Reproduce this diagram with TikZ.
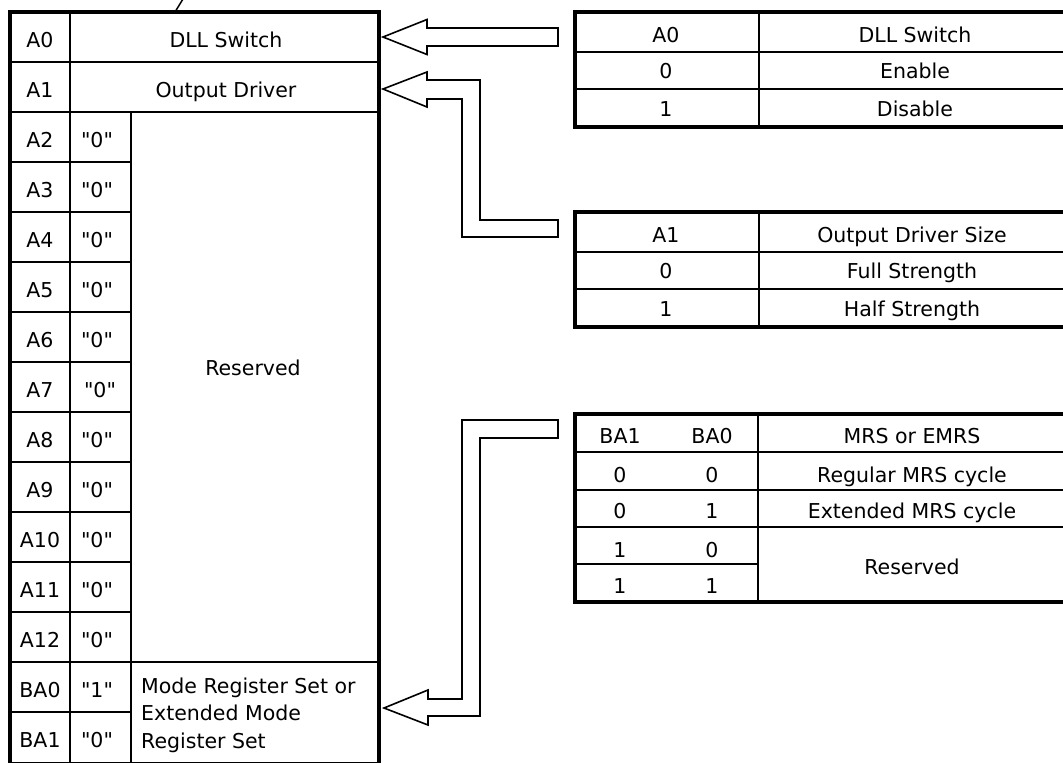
\documentclass[tikz,border=0pt]{standalone}
\usepackage{fontspec}
\setmainfont{DejaVu Sans}
\begin{document}
\begin{tikzpicture}[x=1pt,y=-1pt,
  frame/.style={line width=4pt},
  rulel/.style={line width=1.5pt},
  hrulel/.style={line width=2.4pt},
  barrow/.style={line width=1.6pt, line join=miter, fill=white},
  txt/.style={anchor=base, inner sep=0pt, font=\fontsize{20.5}{24}\selectfont},
  ltxt/.style={anchor=base west, inner sep=0pt, font=\fontsize{20.5}{24}\selectfont}]
\useasboundingbox (0,0) rectangle (1063,763);
\clip (0,0) rectangle (1063,763);
\fill[white] (0,0) rectangle (1063,763);

% ---------- left register table ----------
\draw[rulel] (10,62) -- (378.5,62);
\draw[rulel] (10,112) -- (378.5,112);
\foreach \k in {3,...,12} \draw[rulel] (10,12+50*\k) -- (131,12+50*\k);
\draw[rulel] (10,662) -- (378.5,662);
\draw[rulel] (10,712) -- (131,712);
\draw[rulel] (70,12) -- (70,763);
\draw[rulel] (131,112) -- (131,763);
\draw[frame] (10,12) rectangle (378.5,764);
\draw[line width=1.5pt] (175,12) coordinate (tk1) -- (183,-1) coordinate (tk2);

\foreach \lab [count=\k from 0] in {A0,A1,A2,A3,A4,A5,A6,A7,A8,A9,A10,A11,A12,BA0,BA1}
  \node[txt] (L\k) at (40,47+50*\k) {\lab};
\foreach \v/\xx [count=\k from 2] in {0/97,0/97,0/97,0/97,0/97,0/100,0/97,0/97,0/97,0/97,0/97,1/97,0/97}
  \node[txt] (V\k) at (\xx,47+50*\k) {\textquotedbl\v\textquotedbl};
\node[txt] (dll) at (226,47) {DLL Switch};
\node[txt] (odr) at (226,97) {Output Driver};
\node[txt] (res) at (253,375) {Reserved};
\node[ltxt] (m1) at (141,693) {Mode Register Set or};
\node[ltxt] (m2) at (141,720.5) {Extended Mode};
\node[ltxt] (m3) at (141,748) {Register Set};

% ---------- table A0 ----------
\draw[hrulel] (574.5,52) -- (1080,52);
\draw[rulel] (574.5,89) -- (1080,89);
\draw[line width=2pt] (759,11.5) -- (759,126.5);
\draw[frame] (574.5,11.5) rectangle (1080,126.5);
\node[txt] (t1a) at (666,42) {A0};
\node[txt] (t1b) at (915,42) {DLL Switch};
\node[txt] (t1c) at (666,78) {0};
\node[txt] (t1d) at (915,78) {Enable};
\node[txt] (t1e) at (666,116) {1};
\node[txt] (t1f) at (915,116) {Disable};

% ---------- table A1 ----------
\draw[hrulel] (574.5,252) -- (1080,252);
\draw[rulel] (574.5,289) -- (1080,289);
\draw[line width=2pt] (759,211.5) -- (759,326.5);
\draw[frame] (574.5,211.5) rectangle (1080,326.5);
\node[txt] (t2a) at (666,242) {A1};
\node[txt] (t2b) at (912,242) {Output Driver Size};
\node[txt] (t2c) at (666,278) {0};
\node[txt] (t2d) at (912,278) {Full Strength};
\node[txt] (t2e) at (666,316) {1};
\node[txt] (t2f) at (912,316) {Half Strength};

% ---------- table BA ----------
\draw[hrulel] (574.5,452) -- (1080,452);
\draw[rulel] (574.5,490) -- (1080,490);
\draw[rulel] (574.5,527) -- (1080,527);
\draw[rulel] (574.5,564) -- (758,564);
\draw[line width=2pt] (758,414) -- (758,602);
\draw[frame] (574.5,414) rectangle (1080,602);
\node[txt] (t3a) at (620,443) {BA1};
\node[txt] (t3b) at (712,443) {BA0};
\node[txt] (t3c) at (912,443) {MRS or EMRS};
\node[txt] (t3d) at (620,482) {0};
\node[txt] (t3e) at (712,482) {0};
\node[txt] (t3f) at (912,482) {Regular MRS cycle};
\node[txt] (t3g) at (620,518) {0};
\node[txt] (t3h) at (712,518) {1};
\node[txt] (t3i) at (912,518) {Extended MRS cycle};
\node[txt] (t3j) at (620,557) {1};
\node[txt] (t3k) at (712,557) {0};
\node[txt] (t3l) at (620,593) {1};
\node[txt] (t3m) at (712,593) {1};
\node[txt] (t3n) at (912,574) {Reserved};

% ---------- block arrows ----------
\coordinate (tipA) at (383,37);
\coordinate (tipB) at (383,89);
\coordinate (tipC) at (384,708);
\draw[barrow] (tipA) -- (427,19.5) -- (427,28) -- (558,28) -- (558,46)
  -- (427,46) -- (427,54.5) -- cycle;
\draw[barrow] (tipB) -- (427,72) -- (427,80) -- (480,80) -- (480,220)
  -- (558,220) -- (558,237) -- (462,237) -- (462,99) -- (427,99)
  -- (427,107) -- cycle;
\draw[barrow] (tipC) -- (428,690) -- (428,699) -- (462,699) -- (462,420)
  -- (558,420) -- (558,438) -- (480,438) -- (480,716) -- (428,716)
  -- (428,725) -- cycle;
\end{tikzpicture}
\end{document}
